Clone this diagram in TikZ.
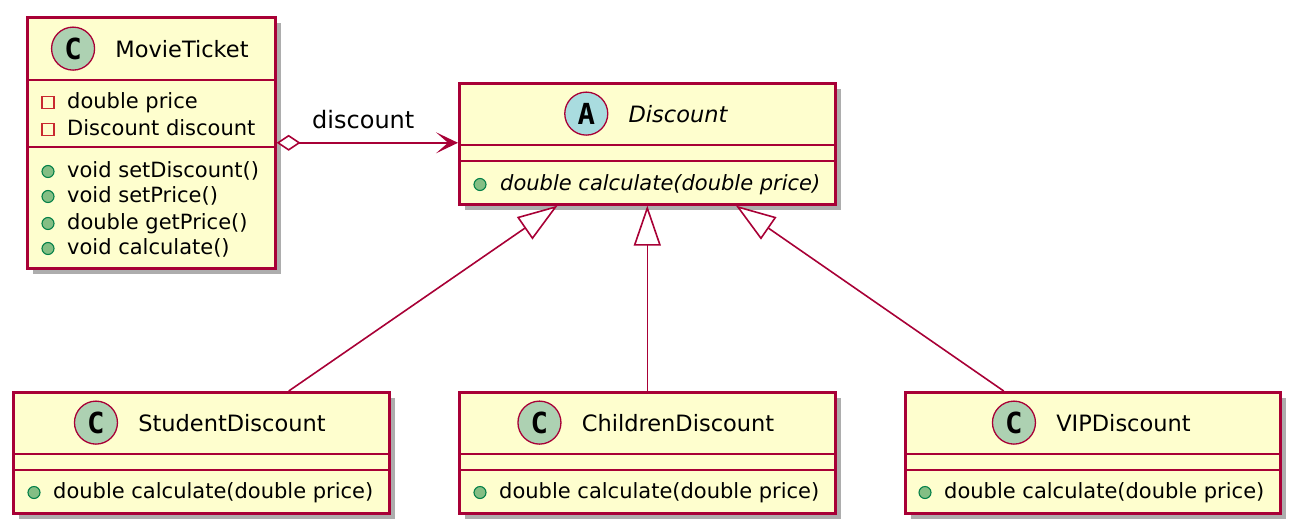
\documentclass[tikz,border=0pt]{standalone}
\usepackage{fontspec}
\setmainfont{DejaVu Sans}
\newfontfamily\glyphfont{DejaVu Sans Mono}
\usetikzlibrary{arrows.meta, shadows, calc, positioning}
\definecolor{umlborder}{HTML}{A80036}
\definecolor{umlfill}{HTML}{FEFECE}
\definecolor{umlclass}{HTML}{ADD1B2}
\definecolor{umlabstract}{HTML}{A9DCDF}
\definecolor{umlpublic}{HTML}{84BE84}
\definecolor{umlpublicdraw}{HTML}{038048}
\definecolor{umlprivate}{HTML}{C82930}

\begin{document}
\begin{tikzpicture}[x=1pt, y=-1pt,
    classbox/.style = {draw=umlborder, fill=umlfill, line width=2.6pt, anchor=north west, inner sep=0pt,
      drop shadow={shadow xshift=6pt, shadow yshift=-6pt, opacity=0.4, fill=black!80}},
    sepline/.style = {draw=umlborder, line width=2.6pt},
    title/.style = {font=\fontsize{22.5}{26}\selectfont, anchor=base, inner sep=0pt},
    member/.style = {font=\fontsize{21}{25}\selectfont, anchor=base west, inner sep=0pt},
    stereo/.style = {circle, draw=umlborder, line width=1.3pt, minimum size=43pt, inner sep=0pt,
      font=\glyphfont\bfseries\fontsize{29}{29}\selectfont},
    pubmark/.style = {circle, draw=umlpublicdraw, fill=umlpublic, line width=1.1pt, minimum size=12pt, inner sep=0pt},
    privmark/.style = {rectangle, draw=umlprivate, line width=1.1pt, minimum size=12pt, inner sep=0pt},
    link/.style = {draw=umlborder, line width=1.6pt},
    extends/.style = {link, -{Triangle[fill=white, length=40pt, width=27pt]}},
  ]
  \useasboundingbox (0,0) rectangle (1300,531);

  % class boxes
  \node[classbox, minimum width=248, minimum height=251] (mt) at (26,16) {};
  \node[classbox, minimum width=376, minimum height=121] (disc) at (458,82) {};
  \node[classbox, minimum width=376, minimum height=121] (sd) at (12,391) {};
  \node[classbox, minimum width=376, minimum height=121] (cd) at (458,391) {};
  \node[classbox, minimum width=375, minimum height=121] (vd) at (904,391) {};

  % compartments
  \draw[sepline] ($(mt.north west)+(0,64)$) -- ($(mt.north east)+(0,64)$);
  \draw[sepline] ($(mt.north west)+(0,131)$) -- ($(mt.north east)+(0,131)$);
  \foreach \c in {disc, sd, cd, vd}{
    \draw[sepline] ($(\c.north west)+(0,63)$) -- ($(\c.north east)+(0,63)$);
    \draw[sepline] ($(\c.north west)+(0,79)$) -- ($(\c.north east)+(0,79)$);
  }

  % titles
  \node[title] (mtT) at (182,57) {MovieTicket};
  \node[stereo, fill=umlclass, left=20pt of mtT] (mtS) {C};
  \node[title, font=\fontsize{22.5}{26}\selectfont\itshape] (discT) at (678,122) {Discount};
  \node[stereo, fill=umlabstract, left=20pt of discT] (discS) {A};
  \foreach \c/\x/\t in {sd/232/StudentDiscount, cd/678/ChildrenDiscount, vd/1123.5/VIPDiscount}{
    \node[title] (\c T) at (\x,431) {\t};
    \node[stereo, fill=umlclass, left=20pt of \c T] (\c S) {C};
  }

  % members
  \foreach \y/\t [count=\i] in {108/double price, 135/Discount discount}{
    \node[privmark] (mtP\i) at (48,\y-5.5) {};
    \node[member] (mtA\i) at (67,\y) {\t};
  }
  \foreach \y/\t [count=\i] in {177/void setDiscount(), 202/void setPrice(), 229/double getPrice(), 254/void calculate()}{
    \node[pubmark] (mtQ\i) at (48,\y-5.5) {};
    \node[member] (mtM\i) at (67,\y) {\t};
  }
  \node[pubmark] (discQ) at (480,184.5) {};
  \node[member, font=\fontsize{21}{25}\selectfont\itshape] (discM) at (500,190) {double calculate(double price)};
  \foreach \c/\x in {sd/34, cd/480, vd/925}{
    \node[pubmark] (\c Q) at (\x,492.5) {};
    \node[member] (\c M) at (\x+19,498) {double calculate(double price)};
  }

  % relations
  \draw[link, {Diamond[fill=white, length=24pt, width=16pt]}-{Stealth[length=22pt, width=21pt, inset=12pt]}]
    (mt.east) -- (mt.east -| disc.west);
  \node[member, font=\fontsize{24}{28}\selectfont] (lbl) at (312,128) {discount};
  \draw[extends] ($(sd.north west)!0.731!(sd.north east)$) -- ($(disc.south west)!0.263!(disc.south east)$);
  \draw[extends] (cd.north) -- (disc.south);
  \draw[extends] ($(vd.north west)!0.264!(vd.north east)$) -- ($(disc.south west)!0.734!(disc.south east)$);
\end{tikzpicture}
\end{document}
